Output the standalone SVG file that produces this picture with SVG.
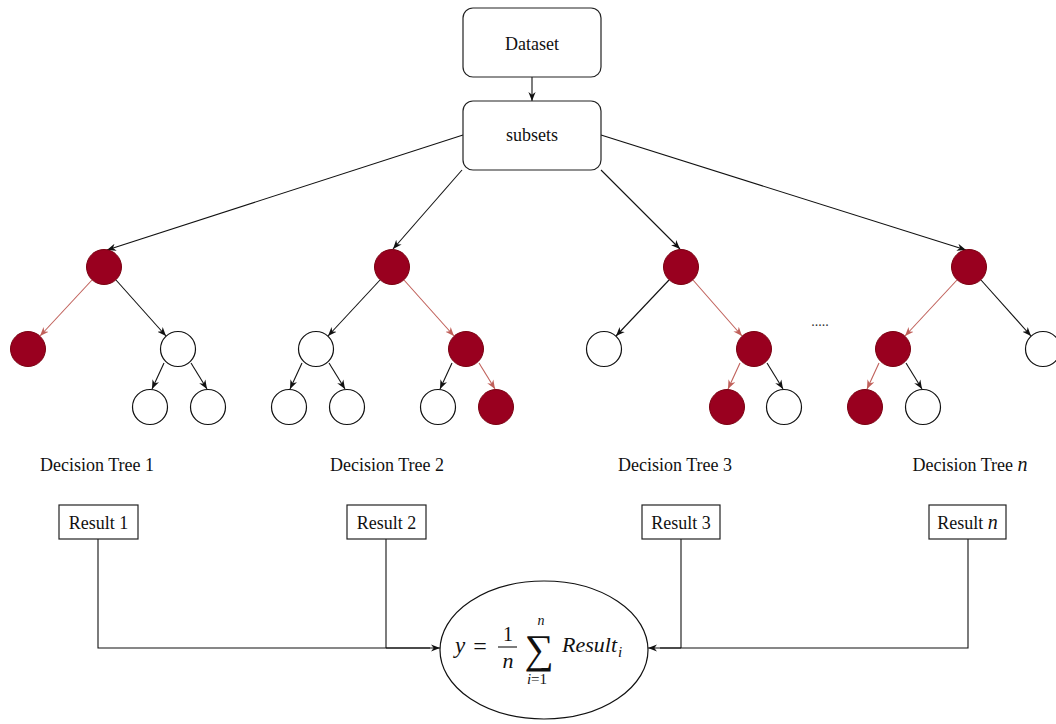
<svg xmlns="http://www.w3.org/2000/svg" width="1056" height="724" viewBox="0 0 1056 724">
<defs>
<style>
.box{fill:#fff;stroke:#222;stroke-width:1.2}
.lbl{font-family:"Liberation Serif","Times New Roman",serif;font-size:18px;fill:#111}
.math{font-family:"Liberation Serif","Times New Roman",serif;fill:#111}
.it{font-style:italic}
.red{fill:#99001f;stroke:#7a0010;stroke-width:1}
.wht{fill:#fff;stroke:#111;stroke-width:1.2}
.eb{stroke:#111;stroke-width:1.1;fill:none;marker-end:url(#ab)}
.er{stroke:#c0605a;stroke-width:1.1;fill:none;marker-end:url(#ar)}
.ln{stroke:#111;stroke-width:1.1;fill:none}
</style>
<marker id="ab" viewBox="0 0 10 10" refX="10" refY="5" markerWidth="9" markerHeight="9" orient="auto" markerUnits="userSpaceOnUse"><path d="M0,1 L10,5 L0,9 L3,5 z" fill="#111"/></marker>
<marker id="ar" viewBox="0 0 10 10" refX="10" refY="5" markerWidth="9" markerHeight="9" orient="auto" markerUnits="userSpaceOnUse"><path d="M0,1 L10,5 L0,9 L3,5 z" fill="#c0605a"/></marker>
</defs>
<rect width="1056" height="724" fill="#fff"/>

<g id="connectors">
<line class="eb" x1="532" y1="77" x2="532" y2="101"/>
<line class="eb" x1="463" y1="135" x2="107" y2="250"/>
<line class="eb" x1="462" y1="170" x2="393" y2="249"/>
<line class="eb" x1="601" y1="170" x2="680" y2="249"/>
<line class="eb" x1="601" y1="135" x2="966" y2="250"/>
<!-- tree 1 -->
<line class="er" x1="92" y1="280" x2="40" y2="336"/>
<line class="eb" x1="116" y1="280" x2="166" y2="336"/>
<line class="eb" x1="164" y1="363" x2="152" y2="389"/>
<line class="eb" x1="191" y1="363" x2="207" y2="389"/>
<!-- tree 2 -->
<line class="eb" x1="380" y1="280" x2="328" y2="336"/>
<line class="er" x1="404" y1="280" x2="454" y2="336"/>
<line class="eb" x1="302" y1="363" x2="290" y2="389"/>
<line class="eb" x1="329" y1="363" x2="345" y2="389"/>
<line class="eb" x1="452" y1="363" x2="440" y2="389"/>
<line class="er" x1="479" y1="363" x2="495" y2="389"/>
<!-- tree 3 -->
<line class="eb" x1="669" y1="280" x2="616" y2="336"/>
<line class="er" x1="693" y1="280" x2="742" y2="336"/>
<line class="er" x1="740" y1="363" x2="728" y2="389"/>
<line class="eb" x1="767" y1="363" x2="783" y2="389"/>
<!-- tree n -->
<line class="er" x1="957" y1="280" x2="905" y2="336"/>
<line class="eb" x1="981" y1="280" x2="1031" y2="336"/>
<line class="er" x1="879" y1="363" x2="867" y2="389"/>
<line class="eb" x1="906" y1="363" x2="922" y2="389"/>
<!-- results to formula -->
<polyline class="ln" points="98,539 98,648 430,648"/>
<line class="eb" x1="386" y1="648" x2="440" y2="648"/>
<line class="ln" x1="386" y1="539" x2="386" y2="648"/>
<polyline class="ln" points="968,539 968,648 660,648"/>
<line class="eb" x1="681" y1="648" x2="648" y2="648"/>
<line class="ln" x1="681" y1="539" x2="681" y2="648"/>
</g>

<g id="dataset"><rect class="box" x="463" y="8" width="138" height="69" rx="10"/><text class="lbl" x="532" y="50" text-anchor="middle">Dataset</text></g>
<g id="subsets"><rect class="box" x="463" y="101" width="138" height="69" rx="10"/><text class="lbl" x="532" y="141" text-anchor="middle">subsets</text></g>

<g id="tree1">
<circle class="red" cx="104" cy="267" r="17.5"/>
<circle class="red" cx="28" cy="349" r="17.5"/>
<circle class="wht" cx="178" cy="349" r="17.5"/>
<circle class="wht" cx="150" cy="407" r="17.5"/>
<circle class="wht" cx="208" cy="407" r="17.5"/>
<text class="lbl" x="97" y="471" text-anchor="middle">Decision Tree 1</text>
</g>
<g id="tree2">
<circle class="red" cx="392" cy="267" r="17.5"/>
<circle class="wht" cx="316" cy="349" r="17.5"/>
<circle class="red" cx="466" cy="349" r="17.5"/>
<circle class="wht" cx="289" cy="407" r="17.5"/>
<circle class="wht" cx="347" cy="407" r="17.5"/>
<circle class="wht" cx="438" cy="407" r="17.5"/>
<circle class="red" cx="496" cy="407" r="17.5"/>
<text class="lbl" x="387" y="471" text-anchor="middle">Decision Tree 2</text>
</g>
<g id="tree3">
<circle class="red" cx="681" cy="267" r="17.5"/>
<circle class="wht" cx="604" cy="349" r="17.5"/>
<circle class="red" cx="754" cy="349" r="17.5"/>
<circle class="red" cx="727" cy="407" r="17.5"/>
<circle class="wht" cx="784" cy="407" r="17.5"/>
<text class="lbl" x="675" y="471" text-anchor="middle">Decision Tree 3</text>
</g>
<g id="dots"><text x="820" y="326" text-anchor="middle" style="font-family:'Liberation Serif',serif;font-size:14px;fill:#333">.....</text></g>
<g id="treen">
<circle class="red" cx="969" cy="267" r="17.5"/>
<circle class="red" cx="893" cy="349" r="17.5"/>
<circle class="wht" cx="1043" cy="349" r="17.5"/>
<circle class="red" cx="865" cy="407" r="17.5"/>
<circle class="wht" cx="923" cy="407" r="17.5"/>
<text class="lbl" x="970" y="471" text-anchor="middle">Decision Tree <tspan class="it" font-size="20">n</tspan></text>
</g>

<g id="result1"><rect class="box" x="59" y="505" width="79" height="34"/><text class="lbl" x="98.5" y="529" text-anchor="middle">Result 1</text></g>
<g id="result2"><rect class="box" x="347" y="505" width="79" height="34"/><text class="lbl" x="386.5" y="529" text-anchor="middle">Result 2</text></g>
<g id="result3"><rect class="box" x="642" y="505" width="78" height="34"/><text class="lbl" x="681" y="529" text-anchor="middle">Result 3</text></g>
<g id="resultn"><rect class="box" x="929" y="505" width="77" height="34"/><text class="lbl" x="967.5" y="529" text-anchor="middle">Result <tspan class="it" font-size="20">n</tspan></text></g>

<g id="formula">
<ellipse cx="544" cy="650" rx="104" ry="69" fill="#fff" stroke="#111" stroke-width="1.2"/>
<text class="math it" x="455" y="653" font-size="23">y</text>
<text class="math" x="480" y="654" font-size="24" text-anchor="middle">=</text>
<text class="math" x="508" y="641" font-size="20" text-anchor="middle">1</text>
<line x1="498" y1="647" x2="517" y2="647" stroke="#111" stroke-width="1.1"/>
<text class="math it" x="508" y="668" font-size="22" text-anchor="middle">n</text>
<text class="math" x="539" y="663" font-size="41" text-anchor="middle">∑</text>
<text class="math it" x="541" y="625" font-size="14" text-anchor="middle">n</text>
<text class="math" x="537" y="684" font-size="15" text-anchor="middle"><tspan class="it">i</tspan>=1</text>
<text class="math it" x="562" y="652" font-size="22">Result</text>
<text class="math it" x="618" y="657" font-size="15">i</text>
</g>
</svg>
